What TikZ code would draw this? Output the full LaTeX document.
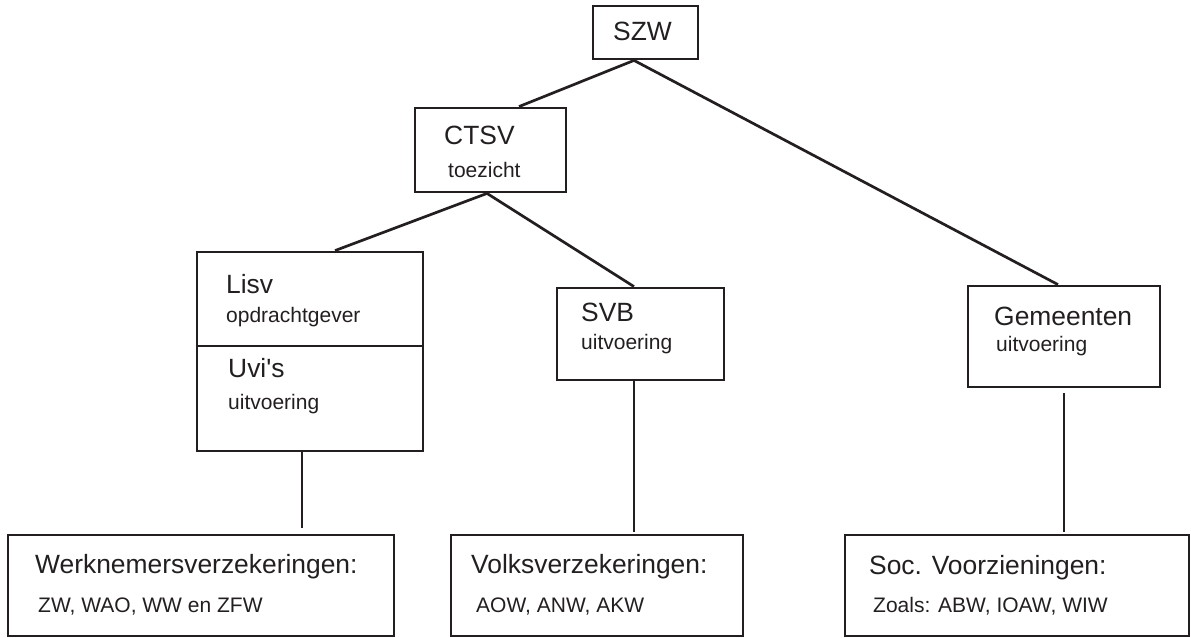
\documentclass[tikz,border=0pt]{standalone}
\usepackage{fontspec}
\newfontfamily\lsans{Liberation Sans}
\definecolor{ink}{HTML}{231F20}
\begin{document}
\begin{tikzpicture}[x=1pt,y=-1pt,
  box/.style={draw=ink, line width=2.8pt, inner sep=0pt, rectangle},
  link/.style={draw=ink, line width=2.7pt},
  big/.style={anchor=base west, inner sep=0pt, text=ink, font=\lsans\fontsize{26.4}{30}\selectfont},
  small/.style={anchor=base west, inner sep=0pt, text=ink, font=\lsans\fontsize{21}{25}\selectfont}]
\useasboundingbox (0,0) rectangle (1191,637);
% boxes
\node[box, minimum width=105pt, minimum height=53pt] (szw) at (645.5,32.5) {};
\node[box, minimum width=151pt, minimum height=84pt] (ctsv) at (490.5,150) {};
\node[box, minimum width=226pt, minimum height=199pt] (lisv) at (310,351.5) {};
\node[box, minimum width=167pt, minimum height=92pt] (svb) at (640.5,334) {};
\node[box, minimum width=192pt, minimum height=101pt] (gem) at (1064,336.5) {};
\node[box, minimum width=386pt, minimum height=101pt] (wn) at (201,585.5) {};
\node[box, minimum width=292pt, minimum height=101pt] (volks) at (597,585.5) {};
\node[box, minimum width=344pt, minimum height=101pt] (soc) at (1017,585.5) {};
% divider in Lisv box
\draw[link] ([yshift=5.5pt]lisv.west) -- ([yshift=5.5pt]lisv.east);
% texts
\node[big] (tszw) at (613,40) {SZW};
\node[big] (tctsv) at (444,144) {CTSV};
\node[small] (tctsv2) at (448,177) {toezicht};
\node[big] (tlisv) at (226,293) {Lisv};
\node[small] (tlisv2) at (226,322) {opdrachtgever};
\node[big] (tuvi) at (228,377) {Uvi's};
\node[small] (tuvi2) at (228,409) {uitvoering};
\node[big] (tsvb) at (581,321) {SVB};
\node[small] (tsvb2) at (581,349) {uitvoering};
\node[big] (tgem) at (994,325) {Gemeenten};
\node[small] (tgem2) at (996,351) {uitvoering};
\node[big] (twn) at (35,573) {Werknemersverzekeringen:};
\node[small] (twn2) at (38,612) {ZW, WAO, WW en ZFW};
\node[big] (tvolks) at (471,573) {Volksverzekeringen:};
\node[small] (tvolks2) at (476,612) {AOW, ANW, AKW};
\node[big] (tsoc) at (869,574) {Soc. Voorzieningen:};
\node[small] (tsoc2) at (873,612) {Zoals: ABW, IOAW, WIW};
% connectors
\draw[link] ([xshift=-11.5pt]szw.south) -- ([xshift=28.5pt]ctsv.north);
\draw[link] ([xshift=-11.5pt]szw.south) -- ([xshift=-6pt]gem.north);
\draw[link] ([xshift=-3.5pt]ctsv.south) -- ([xshift=25pt]lisv.north);
\draw[link] ([xshift=-3.5pt]ctsv.south) -- ([xshift=-6.5pt]svb.north);
\draw[link, shorten >=6pt] ([xshift=-8pt]lisv.south) -- ([xshift=-8pt]lisv.south |- wn.north);
\draw[link, shorten >=2pt] ([xshift=-6.5pt]svb.south) -- ([xshift=-6.5pt]svb.south |- volks.north);
\draw[link, shorten <=5pt, shorten >=2pt] (gem.south) -- (gem.south |- soc.north);
\end{tikzpicture}
\end{document}
